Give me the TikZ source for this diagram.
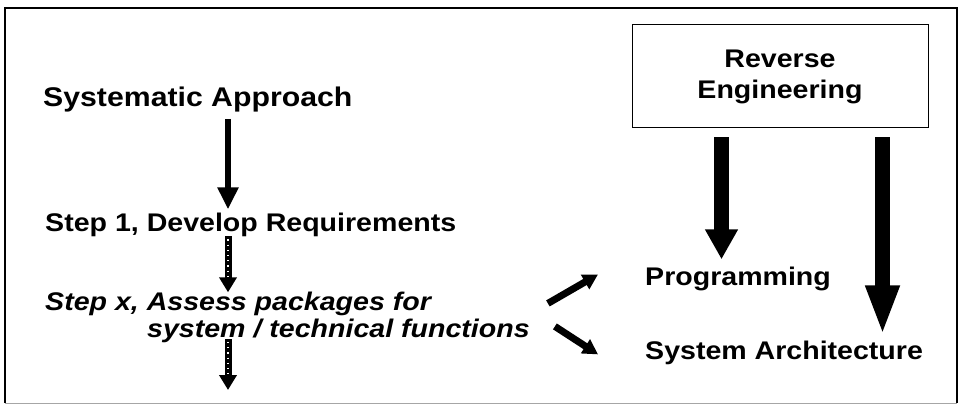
\documentclass[tikz,border=0pt]{standalone}
\usepackage{fontspec}
\setmainfont{Liberation Sans}[FakeStretch=1.12]
\usepackage{tikz}
\usetikzlibrary{arrows.meta,calc,positioning}

\begin{document}
\begin{tikzpicture}[
		x=1pt, y=-1pt,
		lbl/.style={font=\bfseries\fontsize{25.5}{30}\selectfont, inner sep=0pt, anchor=base west},
		penche/.style={lbl, font=\bfseries\itshape\fontsize{25.5}{30}\selectfont},
		titre/.style={lbl, font=\bfseries\fontsize{27}{32}\selectfont},
		boite/.style={draw, line width=1pt, minimum width=296pt, minimum height=103pt, align=center,
			font=\bfseries\fontsize{25.5}{31}\selectfont},
		fleche/.style={line width=6.5pt, -{Triangle[width=20pt,length=22pt]}},
		grosse/.style={line width=15pt, -{Triangle[width=31pt,length=#1]}},
		etape/.style={line width=7pt, -{Triangle[width=17pt,length=15pt]},
			postaction={draw=white, line width=1.4pt, dash pattern=on 1.2pt off 4pt, arrows=-, shorten >=15pt, shorten <=3pt}},
		diag/.style={line width=7pt, -{Triangle[width=16pt,length=15pt]}}
		]
		\useasboundingbox (0,0) rectangle (960,406);
		
		% Le cadre
		\draw[line width=1.5pt] (5,403) -- (5,8) -- (957,8) -- (957,403);
		\draw[gray!70] (5,403) -- (957,403);
		
		% Les textes
		\node[titre] (sys) at (43,107) {Systematic Approach};
		\node[lbl] (step1) at (45,231) {Step 1, Develop Requirements};
		\node[penche] (stepx) at (45,310) {Step x, Assess packages for};
		\node[penche] (stepxb) at (147,337) {system / technical functions};
		\node[boite] (rev) at (780,76.5) {Reverse\\Engineering};
		\node[lbl] (prog) at (645,285) {Programming};
		\node[lbl] (arch) at (645,359) {System Architecture};
		
		\coordinate (axe) at (228,0);
		\coordinate (fin) at (228,390);
		
		% Les flèches
		\draw[fleche, shorten <=6pt, shorten >=3pt] (sys.south -| axe) -- (step1.north -| axe);
		\draw[etape] (step1.south -| axe) -- ([yshift=-1pt]stepx.north -| axe);
		\draw[etape] ([yshift=-2pt]stepxb.base -| axe) -- (fin);
		\draw[diag] ([xshift=18pt, yshift=27pt]stepxb.east) -- ([xshift=-47pt, yshift=4pt]prog.west);
		\draw[diag] ([xshift=25pt, yshift=4pt]stepxb.east) -- ([xshift=-47pt, yshift=-2pt]arch.west);
		\draw[grosse=30pt, shorten <=9pt, shorten >=7pt] ([xshift=90pt]rev.south west) -- ([xshift=90pt]rev.south west |- prog.north);
		\draw[grosse=50pt, shorten <=9pt, shorten >=5pt] ([xshift=-46pt]rev.south east) -- ([xshift=-46pt]rev.south east |- arch.north);
	\end{tikzpicture}
\end{document}
